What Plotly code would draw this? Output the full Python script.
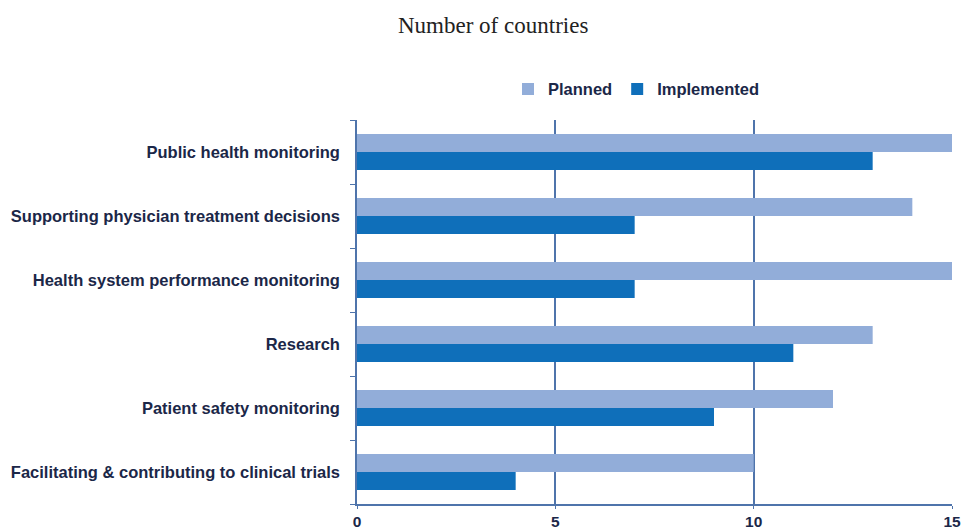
import plotly.graph_objects as go

categories = [
    "Public health monitoring",
    "Supporting physician treatment decisions",
    "Health system performance monitoring",
    "Research",
    "Patient safety monitoring",
    "Facilitating & contributing to clinical trials",
]
planned = [15, 14, 15, 13, 12, 10]
implemented = [13, 7, 7, 11, 9, 4]
x_ticks = [0, 5, 10, 15]

text_color = "#1b2748"
axis_color = "#4f74ab"
sans = "Liberation Sans, Arial"

fig = go.Figure()
fig.add_trace(go.Bar(
    y=categories, x=implemented, name="Implemented", orientation="h",
    marker=dict(color="#0f6fba", line=dict(width=0)), legendrank=2,
))
fig.add_trace(go.Bar(
    y=categories, x=planned, name="Planned", orientation="h",
    marker=dict(color="#92add9", line=dict(width=0)), legendrank=1,
))

fig.update_layout(
    width=963, height=532,
    margin=dict(l=357, r=11, t=120, b=28),
    paper_bgcolor="white", plot_bgcolor="white",
    barmode="group", bargap=0.44, bargroupgap=0,
    font=dict(family=sans, size=16, color=text_color),
    showlegend=True,
    legend=dict(
        orientation="h", x=(508 - 357) / 595, xanchor="left", y=1.08, yanchor="middle",
        font=dict(size=16.5, color=text_color, family=sans, weight="bold"), itemwidth=30,
        bgcolor="rgba(0,0,0,0)",
    ),
    annotations=[dict(
        text="Number of countries", xref="paper", yref="paper",
        x=(493 - 357) / 595, y=1 + (120 - 25) / 384, xanchor="center", yanchor="middle",
        showarrow=False, font=dict(family="Liberation Serif, Times New Roman", size=23, color="#222222"),
    )],
)
fig.update_xaxes(
    range=[0, 15], tickvals=x_ticks, ticktext=[str(v) for v in x_ticks],
    showgrid=True, gridcolor=axis_color, gridwidth=1.5,
    showline=True, linecolor=axis_color, linewidth=1.5,
    ticks="outside", tickcolor=axis_color, ticklen=3,
    tickfont=dict(size=15.5, color=text_color, family=sans, weight="bold"),
    zeroline=False, automargin=False,
)
fig.update_yaxes(
    categoryorder="array", categoryarray=categories[::-1],
    showgrid=False, showline=True, linecolor=axis_color, linewidth=1.5,
    ticks="outside", tickson="boundaries", tickcolor=axis_color, ticklen=5,
    tickfont=dict(size=16.5, color=text_color, family=sans, weight="bold"),
    ticklabelstandoff=12, automargin=False,
)

fig.write_html("out.html")
